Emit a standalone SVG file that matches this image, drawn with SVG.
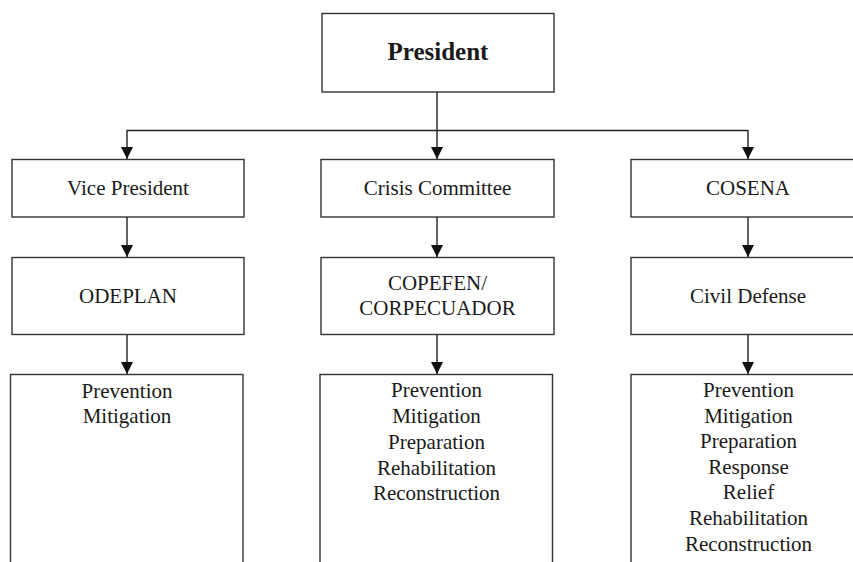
<svg xmlns="http://www.w3.org/2000/svg" width="853" height="562" viewBox="0 0 853 562">
<style>
.box{fill:#fff;stroke:#333;stroke-width:1.4}
.t{font-family:"Liberation Serif","Times New Roman",serif;font-size:21px;fill:#1a1a1a;text-anchor:middle}
.b{font-weight:bold;font-size:25px}
.c{fill:none;stroke:#222;stroke-width:1.4}
</style>
<defs>
<marker id="ah" markerUnits="userSpaceOnUse" markerWidth="12" markerHeight="12" viewBox="0 0 12 12" refX="6" refY="12" orient="auto-start-reverse">
<path d="M0,0 L12,0 L6,12 Z" fill="#111" transform="rotate(0)"/>
</marker>
<marker id="ad" markerUnits="userSpaceOnUse" markerWidth="12" markerHeight="12" viewBox="0 0 12 12" refX="12" refY="6" orient="auto">
<path d="M0,0 L12,6 L0,12 Z" fill="#111"/>
</marker>
</defs>
<rect width="853" height="562" fill="#fff"/>
<g id="connectors">
<line class="c" x1="437" y1="92" x2="437" y2="159" marker-end="url(#ad)"/>
<polyline class="c" points="437,130.5 127,130.5 127,159" marker-end="url(#ad)"/>
<polyline class="c" points="437,130.5 748,130.5 748,159" marker-end="url(#ad)"/>
<line class="c" x1="127" y1="217" x2="127" y2="257" marker-end="url(#ad)"/>
<line class="c" x1="437" y1="217" x2="437" y2="257" marker-end="url(#ad)"/>
<line class="c" x1="748" y1="217" x2="748" y2="257" marker-end="url(#ad)"/>
<line class="c" x1="127" y1="334" x2="127" y2="374" marker-end="url(#ad)"/>
<line class="c" x1="437" y1="334" x2="437" y2="374" marker-end="url(#ad)"/>
<line class="c" x1="748" y1="334" x2="748" y2="374" marker-end="url(#ad)"/>
</g>
<g id="president">
<rect class="box" x="322" y="13.5" width="232" height="78.5"/>
<text class="t b" x="438" y="60">President</text>
</g>
<g id="vice-president">
<rect class="box" x="12" y="159.5" width="232" height="57.5"/>
<text class="t" x="128" y="195">Vice President</text>
</g>
<g id="crisis-committee">
<rect class="box" x="321" y="159.5" width="233" height="57.5"/>
<text class="t" x="437.5" y="195">Crisis Committee</text>
</g>
<g id="cosena">
<rect class="box" x="631" y="159.5" width="235" height="57.5"/>
<text class="t" x="748" y="195">COSENA</text>
</g>
<g id="odeplan">
<rect class="box" x="12" y="257.5" width="232" height="77"/>
<text class="t" x="128" y="302.5">ODEPLAN</text>
</g>
<g id="copefen">
<rect class="box" x="321" y="257.5" width="233" height="77"/>
<text class="t" x="437.5" y="290">COPEFEN/</text>
<text class="t" x="437.5" y="314.5">CORPECUADOR</text>
</g>
<g id="civil-defense">
<rect class="box" x="631" y="257.5" width="235" height="77"/>
<text class="t" x="748" y="302.5">Civil Defense</text>
</g>
<g id="odeplan-tasks">
<rect class="box" x="10.5" y="374.5" width="232.5" height="200"/>
<text class="t" x="127" y="397.5">Prevention</text>
<text class="t" x="127" y="423">Mitigation</text>
</g>
<g id="copefen-tasks">
<rect class="box" x="320" y="374.5" width="232.5" height="200"/>
<text class="t" x="436.5" y="397">Prevention</text>
<text class="t" x="436.5" y="423">Mitigation</text>
<text class="t" x="436.5" y="448.5">Preparation</text>
<text class="t" x="436.5" y="474.5">Rehabilitation</text>
<text class="t" x="436.5" y="500">Reconstruction</text>
</g>
<g id="civil-defense-tasks">
<rect class="box" x="631" y="374.5" width="235" height="200"/>
<text class="t" x="748.5" y="397">Prevention</text>
<text class="t" x="748.5" y="422.6">Mitigation</text>
<text class="t" x="748.5" y="448.2">Preparation</text>
<text class="t" x="748.5" y="473.8">Response</text>
<text class="t" x="748.5" y="499.4">Relief</text>
<text class="t" x="748.5" y="525">Rehabilitation</text>
<text class="t" x="748.5" y="550.6">Reconstruction</text>
</g>
</svg>
